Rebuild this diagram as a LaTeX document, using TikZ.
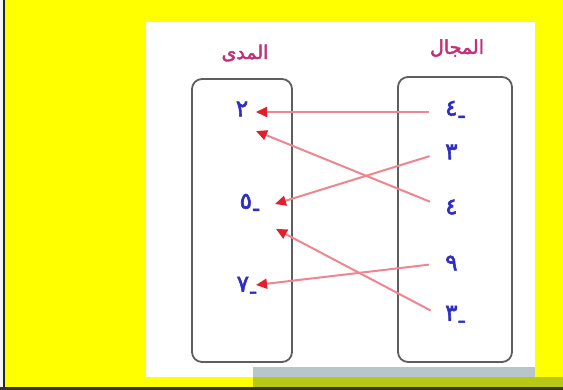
\documentclass[tikz,border=0pt]{standalone}
\usepackage{fontspec}
\usepackage{tikz}
\usetikzlibrary{arrows.meta,positioning}
\TeXXeTstate=1
\newfontfamily\arabicfont[Script=Arabic,FakeBold=2.5]{DejaVu Sans}
\definecolor{pageYellow}{HTML}{FFFF00}
\definecolor{headPink}{HTML}{C2307C}
\definecolor{digitBlue}{HTML}{2E2EC4}
\definecolor{linePink}{HTML}{EE8591}
\definecolor{tipRed}{HTML}{E21F2C}
\definecolor{boxGray}{HTML}{5E5E5E}
\definecolor{barGray}{HTML}{B6C6CA}
\definecolor{barGreen}{HTML}{B8C816}
\begin{document}
\begin{tikzpicture}[
    x=1pt,y=-1pt,
    setbox/.style={draw=boxGray,line width=1.8pt,rounded corners=10pt},
    head/.style={font=\arabicfont\fontsize{19}{21}\selectfont,text=headPink},
    num/.style={font=\arabicfont\fontsize{23}{25}\selectfont,text=digitBlue,inner sep=2pt},
    dom/.style={num,anchor=west},
    arrow/.style={draw=linePink,line width=2pt,-{Triangle[length=11pt,width=10pt,fill=tipRed,color=tipRed]},shorten <=14pt}
  ]
    \useasboundingbox (0,0) rectangle (563,390);
    % frame and page
    \fill[pageYellow] (0,0) rectangle (563,390);
    \fill[white!92!gray] (0,0) rectangle (3,390);
    \fill[black!85] (3,0) rectangle (5,390);
    \fill[white] (146,22) rectangle (535,377);
    \fill[barGray] (253,367) rectangle (535,377);
    \fill[barGreen] (253,377) rectangle (563,388);
    \fill[black!80!olive] (0,387.5) rectangle (563,390);
    % the two sets
    \draw[setbox] (192,79) rectangle (292,362);
    \draw[setbox] (398,77) rectangle (512,362);
    \node[head] (rangeHead) at (245,53) {\beginR المدى\endR};
    \node[head] (domHead) at (457,48) {\beginR المجال\endR};
    % range
    \node[num] (rTwo) at (242,109) {٢};
    \node[num] (rFive) at (250,205) {٥\raisebox{-0.6ex}{-}};
    \node[num] (rSeven) at (247,288) {٧\raisebox{-0.6ex}{-}};
    % domain
    \node[dom] (dMinusFour) at (443,112) {٤\raisebox{-0.6ex}{-}};
    \node[dom] (dThree) at (443,152) {٣};
    \node[dom] (dFour) at (443,207) {٤};
    \node[dom] (dNine) at (443,263) {٩};
    \node[dom] (dMinusThree) at (443,317) {٣\raisebox{-0.6ex}{-}};
    % arrow ends
    \coordinate (tipA) at (256,112);
    \coordinate (tipB) at (256,131);
    \coordinate (tipC) at (275,204);
    \coordinate (tipD) at (276,229);
    \coordinate (tipE) at (256,285);
    \draw[arrow] (dMinusFour.west) -- (tipA);
    \draw[arrow] (dFour.west) -- (tipB);
    \draw[arrow] (dThree.west) -- (tipC);
    \draw[arrow] (dMinusThree.west) -- (tipD);
    \draw[arrow] (dNine.west) -- (tipE);
  \end{tikzpicture}
\end{document}
